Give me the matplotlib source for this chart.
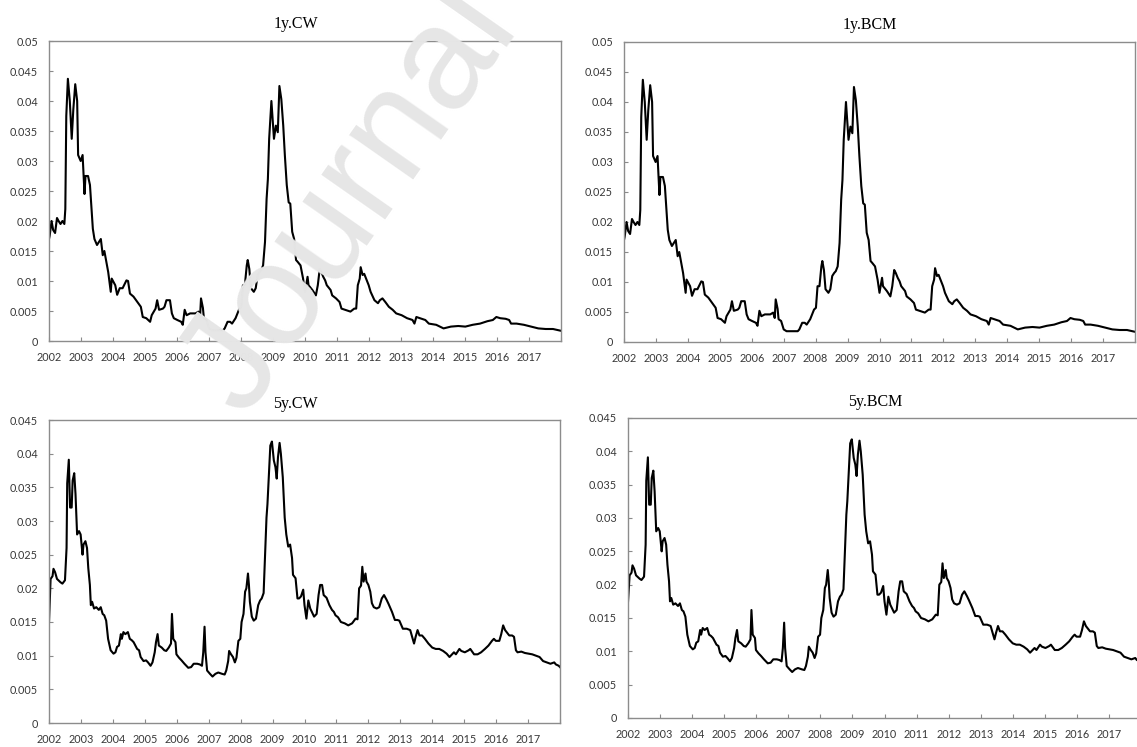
import numpy as np
import matplotlib
matplotlib.use('Agg')
import matplotlib.pyplot as plt
import matplotlib.transforms as mtransforms
from matplotlib.ticker import FuncFormatter

# weekly series, dates as fractional years
one_year_dates = [
    2002.00, 2002.02, 2002.08, 2002.13, 2002.19, 2002.25, 2002.30, 2002.36, 2002.42, 2002.48,
    2002.51, 2002.54, 2002.59, 2002.65, 2002.71, 2002.76, 2002.82, 2002.88, 2002.91, 2002.99,
    2003.05, 2003.11, 2003.14, 2003.22, 2003.28, 2003.37, 2003.42, 2003.50, 2003.62, 2003.68,
    2003.73, 2003.85, 2003.93, 2003.96, 2004.07, 2004.13, 2004.21, 2004.30, 2004.42, 2004.47,
    2004.53, 2004.64, 2004.76, 2004.87, 2004.93, 2005.04, 2005.16, 2005.21, 2005.33, 2005.38,
    2005.44, 2005.56, 2005.61, 2005.67, 2005.78, 2005.84, 2005.90, 2006.01, 2006.13, 2006.18,
    2006.24, 2006.30, 2006.41, 2006.58, 2006.67, 2006.72, 2006.75, 2006.81, 2006.84, 2006.92,
    2007.00, 2007.09, 2007.26, 2007.44, 2007.49, 2007.58, 2007.66, 2007.72, 2007.83, 2007.95,
    2008.01, 2008.06, 2008.12, 2008.18, 2008.21, 2008.26, 2008.31, 2008.40, 2008.46, 2008.52,
    2008.58, 2008.63, 2008.69, 2008.75, 2008.80, 2008.84, 2008.88, 2008.95, 2009.00, 2009.03,
    2009.09, 2009.15, 2009.20, 2009.26, 2009.32, 2009.37, 2009.43, 2009.49, 2009.54, 2009.60,
    2009.66, 2009.72, 2009.77, 2009.86, 2009.94, 2010.00, 2010.08, 2010.11, 2010.23, 2010.34,
    2010.40, 2010.46, 2010.51, 2010.57, 2010.63, 2010.68, 2010.80, 2010.85, 2010.97, 2011.08,
    2011.14, 2011.25, 2011.42, 2011.54, 2011.60, 2011.65, 2011.71, 2011.74, 2011.80, 2011.85,
    2011.91, 2011.99, 2012.05, 2012.17, 2012.28, 2012.34, 2012.42, 2012.51, 2012.62, 2012.74,
    2012.85, 2013.02, 2013.19, 2013.36, 2013.42, 2013.48, 2013.59, 2013.76, 2013.87, 2014.10,
    2014.33, 2014.56, 2014.79, 2015.01, 2015.24, 2015.47, 2015.70, 2015.87, 2015.98, 2016.10,
    2016.27, 2016.38, 2016.44, 2016.61, 2016.84, 2017.07, 2017.29, 2017.52, 2017.75, 2018.00,
]
one_year_bcm = [
    0.0170, 0.0175, 0.0200, 0.0185, 0.0180, 0.0205, 0.0200, 0.0195, 0.0200, 0.0195,
    0.0220, 0.0375, 0.0437, 0.0400, 0.0337, 0.0386, 0.0428, 0.0400, 0.0310, 0.0300,
    0.0310, 0.0245, 0.0275, 0.0275, 0.0260, 0.0187, 0.0170, 0.0160, 0.0170, 0.0143,
    0.0150, 0.0115, 0.0082, 0.0104, 0.0093, 0.0077, 0.0088, 0.0088, 0.0101, 0.0100,
    0.0079, 0.0074, 0.0065, 0.0057, 0.0040, 0.0038, 0.0032, 0.0043, 0.0054, 0.0068,
    0.0052, 0.0054, 0.0057, 0.0068, 0.0068, 0.0046, 0.0038, 0.0035, 0.0032, 0.0027,
    0.0052, 0.0043, 0.0046, 0.0046, 0.0049, 0.0040, 0.0071, 0.0055, 0.0038, 0.0035,
    0.0021, 0.0018, 0.0018, 0.0018, 0.0021, 0.0032, 0.0032, 0.0029, 0.0038, 0.0054,
    0.0057, 0.0093, 0.0093, 0.0126, 0.0135, 0.0120, 0.0088, 0.0082, 0.0088, 0.0110,
    0.0115, 0.0118, 0.0126, 0.0165, 0.0237, 0.0270, 0.0337, 0.0400, 0.0359, 0.0337,
    0.0359, 0.0348, 0.0425, 0.0403, 0.0359, 0.0310, 0.0260, 0.0231, 0.0229, 0.0182,
    0.0170, 0.0135, 0.0132, 0.0126, 0.0104, 0.0082, 0.0107, 0.0093, 0.0085, 0.0076,
    0.0093, 0.0120, 0.0115, 0.0107, 0.0101, 0.0093, 0.0085, 0.0076, 0.0071, 0.0065,
    0.0054, 0.0052, 0.0049, 0.0054, 0.0054, 0.0093, 0.0104, 0.0123, 0.0110, 0.0112,
    0.0104, 0.0093, 0.0082, 0.0068, 0.0063, 0.0068, 0.0071, 0.0065, 0.0057, 0.0052,
    0.0046, 0.0043, 0.0038, 0.0035, 0.0029, 0.0040, 0.0038, 0.0035, 0.0029, 0.0027,
    0.0021, 0.0024, 0.0025, 0.0024, 0.0027, 0.0029, 0.0033, 0.0035, 0.0040, 0.0038,
    0.0037, 0.0035, 0.0029, 0.0029, 0.0027, 0.0024, 0.0021, 0.0020, 0.0020, 0.0017,
]
one_year_cw = list(one_year_bcm)

five_year_dates = [
    2002.00, 2002.05, 2002.11, 2002.14, 2002.19, 2002.25, 2002.36, 2002.42, 2002.50, 2002.55,
    2002.57, 2002.59, 2002.62, 2002.66, 2002.71, 2002.74, 2002.79, 2002.83, 2002.88, 2002.94,
    2002.99, 2003.05, 2003.08, 2003.14, 2003.19, 2003.23, 2003.28, 2003.31, 2003.35, 2003.41,
    2003.48, 2003.56, 2003.62, 2003.68, 2003.73, 2003.79, 2003.85, 2003.93, 2004.02, 2004.08,
    2004.13, 2004.19, 2004.25, 2004.28, 2004.33, 2004.39, 2004.47, 2004.53, 2004.59, 2004.65,
    2004.76, 2004.82, 2004.87, 2004.96, 2005.04, 2005.10, 2005.18, 2005.24, 2005.31, 2005.35,
    2005.40, 2005.44, 2005.53, 2005.61, 2005.67, 2005.75, 2005.82, 2005.85, 2005.89, 2005.96,
    2005.99, 2006.07, 2006.15, 2006.24, 2006.36, 2006.45, 2006.53, 2006.64, 2006.72, 2006.79,
    2006.83, 2006.87, 2006.90, 2006.95, 2007.04, 2007.12, 2007.21, 2007.30, 2007.42, 2007.50,
    2007.55, 2007.61, 2007.64, 2007.70, 2007.76, 2007.82, 2007.87, 2007.93, 2007.99, 2008.03,
    2008.09, 2008.14, 2008.18, 2008.23, 2008.26, 2008.29, 2008.35, 2008.41, 2008.48, 2008.55,
    2008.61, 2008.66, 2008.72, 2008.75, 2008.81, 2008.84, 2008.89, 2008.93, 2008.98, 2009.04,
    2009.09, 2009.13, 2009.17, 2009.22, 2009.26, 2009.32, 2009.38, 2009.43, 2009.49, 2009.55,
    2009.61, 2009.64, 2009.72, 2009.78, 2009.83, 2009.89, 2009.96, 2010.00, 2010.06, 2010.12,
    2010.18, 2010.23, 2010.30, 2010.38, 2010.44, 2010.49, 2010.55, 2010.60, 2010.69, 2010.78,
    2010.86, 2010.92, 2010.97, 2011.05, 2011.14, 2011.26, 2011.37, 2011.49, 2011.60, 2011.66,
    2011.71, 2011.77, 2011.81, 2011.85, 2011.91, 2011.94, 2012.00, 2012.06, 2012.11, 2012.17,
    2012.26, 2012.34, 2012.42, 2012.49, 2012.57, 2012.63, 2012.74, 2012.83, 2012.91, 2012.97,
    2013.08, 2013.20, 2013.31, 2013.37, 2013.43, 2013.48, 2013.54, 2013.60, 2013.68, 2013.77,
    2013.88, 2014.00, 2014.11, 2014.22, 2014.34, 2014.45, 2014.54, 2014.62, 2014.68, 2014.74,
    2014.85, 2014.91, 2015.02, 2015.14, 2015.19, 2015.31, 2015.42, 2015.53, 2015.65, 2015.76,
    2015.87, 2015.93, 2015.99, 2016.10, 2016.16, 2016.22, 2016.28, 2016.33, 2016.41, 2016.50,
    2016.56, 2016.62, 2016.67, 2016.79, 2016.90, 2017.02, 2017.13, 2017.25, 2017.36, 2017.47,
    2017.59, 2017.70, 2017.82, 2017.87, 2017.96, 2018.00,
]
five_year_bcm = [
    0.0174, 0.0214, 0.0218, 0.0229, 0.0224, 0.0214, 0.0209, 0.0207, 0.0212, 0.0260,
    0.0356, 0.0370, 0.0391, 0.0320, 0.0320, 0.0360, 0.0371, 0.0340, 0.0280, 0.0285,
    0.0280, 0.0250, 0.0265, 0.0270, 0.0260, 0.0230, 0.0205, 0.0175, 0.0180, 0.0170,
    0.0172, 0.0168, 0.0172, 0.0162, 0.0160, 0.0152, 0.0125, 0.0108, 0.0103, 0.0105,
    0.0113, 0.0115, 0.0132, 0.0125, 0.0135, 0.0132, 0.0135, 0.0125, 0.0123, 0.0120,
    0.0110, 0.0108, 0.0098, 0.0092, 0.0093, 0.0090, 0.0085, 0.0090, 0.0105, 0.0120,
    0.0132, 0.0115, 0.0112, 0.0108, 0.0107, 0.0112, 0.0118, 0.0162, 0.0125, 0.0120,
    0.0102, 0.0097, 0.0093, 0.0088, 0.0082, 0.0083, 0.0088, 0.0088, 0.0087, 0.0085,
    0.0105, 0.0143, 0.0105, 0.0078, 0.0073, 0.0069, 0.0073, 0.0075, 0.0073, 0.0072,
    0.0078, 0.0092, 0.0107, 0.0102, 0.0098, 0.0090, 0.0097, 0.0122, 0.0125, 0.0150,
    0.0162, 0.0195, 0.0200, 0.0222, 0.0205, 0.0180, 0.0158, 0.0152, 0.0155, 0.0175,
    0.0182, 0.0185, 0.0193, 0.0230, 0.0305, 0.0325, 0.0375, 0.0412, 0.0418, 0.0390,
    0.0380, 0.0363, 0.0395, 0.0416, 0.0400, 0.0365, 0.0305, 0.0280, 0.0262, 0.0265,
    0.0245, 0.0220, 0.0215, 0.0185, 0.0185, 0.0188, 0.0198, 0.0175, 0.0155, 0.0182,
    0.0170, 0.0165, 0.0158, 0.0162, 0.0190, 0.0205, 0.0205, 0.0190, 0.0186, 0.0175,
    0.0168, 0.0165, 0.0160, 0.0157, 0.0150, 0.0148, 0.0145, 0.0148, 0.0155, 0.0154,
    0.0200, 0.0204, 0.0232, 0.0210, 0.0222, 0.0210, 0.0205, 0.0195, 0.0178, 0.0172,
    0.0170, 0.0172, 0.0185, 0.0190, 0.0183, 0.0177, 0.0165, 0.0153, 0.0153, 0.0152,
    0.0140, 0.0140, 0.0138, 0.0128, 0.0118, 0.0128, 0.0138, 0.0130, 0.0130, 0.0125,
    0.0118, 0.0112, 0.0110, 0.0110, 0.0107, 0.0103, 0.0098, 0.0102, 0.0105, 0.0102,
    0.0110, 0.0107, 0.0105, 0.0108, 0.0110, 0.0102, 0.0102, 0.0105, 0.0110, 0.0115,
    0.0122, 0.0125, 0.0122, 0.0122, 0.0132, 0.0145, 0.0138, 0.0135, 0.0130, 0.0130,
    0.0128, 0.0108, 0.0105, 0.0106, 0.0104, 0.0103, 0.0102, 0.0100, 0.0098, 0.0092,
    0.0090, 0.0088, 0.0090, 0.0087, 0.0085, 0.0083,
]
five_year_cw = [0.0150] + five_year_bcm[1:]

year_labels = [str(y) for y in range(2002, 2018)]

W, H = 1137, 747
# axes boxes in pixels: left, top, right, bottom
layout = {
    '1y.CW': (49, 41, 561, 341),
    '1y.BCM': (624, 42, 1135, 342),
    '5y.CW': (49, 420, 560, 723),
    '5y.BCM': (628, 418, 1141, 718),
}


def draw_panel(fig, title, dates, values, ymax):
    l, t, r, b = layout[title]
    ax = fig.add_axes([l / W, 1 - b / H, (r - l) / W, (b - t) / H])
    ax.plot(dates, values, color='black', lw=1.5)
    ax.set_xlim(2002, 2018)
    ax.set_ylim(0, ymax)
    ax.set_yticks(np.arange(0, ymax + 1e-9, 0.005))
    ax.yaxis.set_major_formatter(FuncFormatter(lambda v, p: '%g' % round(v, 4)))
    ax.set_xticks(range(2002, 2019))
    ax.set_xticklabels(year_labels + [''])
    shift = mtransforms.ScaledTranslation(-11 / 100., 0, fig.dpi_scale_trans)
    for lab in ax.get_xticklabels():
        lab.set_transform(lab.get_transform() + shift)
    ax.tick_params(direction='in', length=3, width=0.8, color='#8a8a8a',
                   labelsize=7.8, labelcolor='#383838')
    ax.tick_params(axis='x', pad=8)
    ax.tick_params(axis='y', pad=8)
    for lab in ax.get_xticklabels() + ax.get_yticklabels():
        lab.set_family('Lato')
    for s in ax.spines.values():
        s.set_color('#8c8c8c')
        s.set_linewidth(1.0)
    ax.set_title(title, fontfamily='Liberation Serif', fontsize=11.5, x=0.482, pad=9)
    return ax


fig = plt.figure(figsize=(W / 100., H / 100.), dpi=100)
draw_panel(fig, '1y.CW', one_year_dates, one_year_cw, 0.05)
draw_panel(fig, '1y.BCM', one_year_dates, one_year_bcm, 0.05)
draw_panel(fig, '5y.CW', five_year_dates, five_year_cw, 0.045)
draw_panel(fig, '5y.BCM', five_year_dates, five_year_bcm, 0.045)

# journal watermark laid over the figure
fig.text(245 / W, 1 - 420 / H, 'Journal Pre-proof', rotation=55, rotation_mode='anchor',
         ha='left', va='baseline', fontsize=105, color='#e6e6e6',
         family='Liberation Sans', zorder=10)

fig.savefig('out.png', dpi=100)
